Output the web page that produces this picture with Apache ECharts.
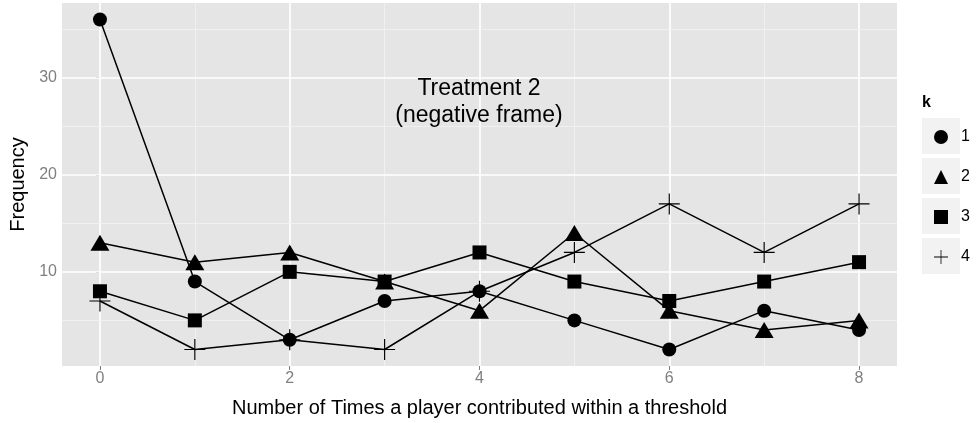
<!DOCTYPE html>
<html>
<head>
<meta charset="utf-8">
<script src="https://cdn.jsdelivr.net/npm/echarts@6/dist/echarts.min.js"></script>
<style>html,body{margin:0;padding:0;background:#fff;}#c{width:978px;height:423px;}</style>
</head>
<body>
<div id="c"></div>
<script>
var xValues = [0, 1, 2, 3, 4, 5, 6, 7, 8];
var k1 = [36, 9, 3, 7, 8, 5, 2, 6, 4];
var k2 = [13, 11, 12, 9, 6, 14, 6, 4, 5];
var k3 = [8, 5, 10, 9, 12, 9, 7, 9, 11];
var k4 = [7, 2, 3, 2, 8, 12, 17, 12, 17];
var seriesNames = ['1', '2', '3', '4'];
var xTicks = [0, 2, 4, 6, 8];
var xMinor = [1, 3, 5, 7];
var yTicks = [10, 20, 30];
var yMinor = [5, 15, 25, 35];

var plusPath = 'path://M9.45,0h1.1v9.45h9.45v1.1h-9.45v9.45h-1.1v-9.45h-9.45v-1.1h9.45z';
var symbols = ['circle', 'triangle', 'rect', plusPath];
var sizes = [14, [19, 16], 14, 21];
var legendIcons = ['circle', 'triangle', 'rect', plusPath];

function pairs(vals) { return xValues.map(function (x, i) { return [x, vals[i]]; }); }

var chart = echarts.init(document.getElementById('c'), null, { renderer: 'canvas' });

var gridLines = [];
xTicks.forEach(function (v) { gridLines.push({ xAxis: v, lineStyle: { color: '#ffffff', width: 1.7, type: 'solid' } }); });
xMinor.forEach(function (v) { gridLines.push({ xAxis: v, lineStyle: { color: '#f2f2f2', width: 0.8, type: 'solid' } }); });
yTicks.forEach(function (v) { gridLines.push({ yAxis: v, lineStyle: { color: '#ffffff', width: 1.7, type: 'solid' } }); });
yMinor.forEach(function (v) { gridLines.push({ yAxis: v, lineStyle: { color: '#f2f2f2', width: 0.8, type: 'solid' } }); });

var dataSeries = [k1, k2, k3, k4].map(function (vals, i) {
  return {
    name: seriesNames[i],
    type: 'line',
    data: pairs(vals),
    symbol: symbols[i],
    symbolSize: sizes[i],
    showAllSymbol: true,
    z: 5,
    animation: false,
    lineStyle: { color: '#000', width: 1.5 },
    itemStyle: { color: '#000', opacity: 1 },
    emphasis: { disabled: true }
  };
});

var option = {
  animation: false,
  backgroundColor: '#ffffff',
  textStyle: { fontFamily: 'Liberation Sans, Arial, sans-serif' },
  grid: { left: 61, right: 81, top: 3, bottom: 57, show: true, backgroundColor: '#e5e5e5', borderWidth: 0 },
  xAxis: {
    type: 'value', min: -0.4, max: 8.4,
    name: 'Number of Times a player contributed within a threshold',
    nameLocation: 'middle', nameGap: 32,
    nameTextStyle: { fontSize: 20, color: '#000' },
    axisLine: { show: false },
    splitLine: { show: false },
    axisTick: { show: true, customValues: xTicks, length: 4, lineStyle: { color: '#7f7f7f', width: 1 } },
    axisLabel: { customValues: xTicks, color: '#7f7f7f', fontSize: 16, margin: 5 }
  },
  yAxis: {
    type: 'value', min: 0.3, max: 37.7,
    name: 'Frequency',
    nameLocation: 'middle', nameGap: 34,
    nameTextStyle: { fontSize: 20, color: '#000' },
    axisLine: { show: false },
    splitLine: { show: false },
    axisTick: { show: true, customValues: yTicks, length: 4, lineStyle: { color: '#7f7f7f', width: 1 } },
    axisLabel: { customValues: yTicks, color: '#7f7f7f', fontSize: 16, margin: 5 }
  },
  legend: {
    orient: 'vertical',
    left: 934, top: 129,
    padding: 0,
    itemWidth: 14, itemHeight: 14, itemGap: 24,
    selectedMode: false,
    data: seriesNames.map(function (n, i) { return { name: n, icon: legendIcons[i] }; }),
    textStyle: { fontSize: 16, color: '#000', padding: [0, 0, 0, 8] }
  },
  graphic: [
    { type: 'rect', left: 922, top: 118, shape: { width: 38, height: 36 }, style: { fill: '#f2f2f2' }, z: -1 },
    { type: 'rect', left: 922, top: 158, shape: { width: 38, height: 36 }, style: { fill: '#f2f2f2' }, z: -1 },
    { type: 'rect', left: 922, top: 198, shape: { width: 38, height: 36 }, style: { fill: '#f2f2f2' }, z: -1 },
    { type: 'rect', left: 922, top: 238, shape: { width: 38, height: 36 }, style: { fill: '#f2f2f2' }, z: -1 },
    { type: 'text', left: 922, top: 95, style: { text: 'k', font: 'bold 16px Liberation Sans, Arial, sans-serif', fill: '#000' } },
    { type: 'text', x: 479, y: 102, z: 10, style: { text: 'Treatment 2\n(negative frame)', font: '23px Liberation Sans, Arial, sans-serif', lineHeight: 27, fill: '#000', align: 'center', verticalAlign: 'middle' } }
  ],
  series: [{
    type: 'line', data: [], z: 1, silent: true,
    markLine: { silent: true, symbol: ['none', 'none'], label: { show: false }, animation: false, data: gridLines }
  }].concat(dataSeries)
};
chart.setOption(option);
</script>
</body>
</html>
